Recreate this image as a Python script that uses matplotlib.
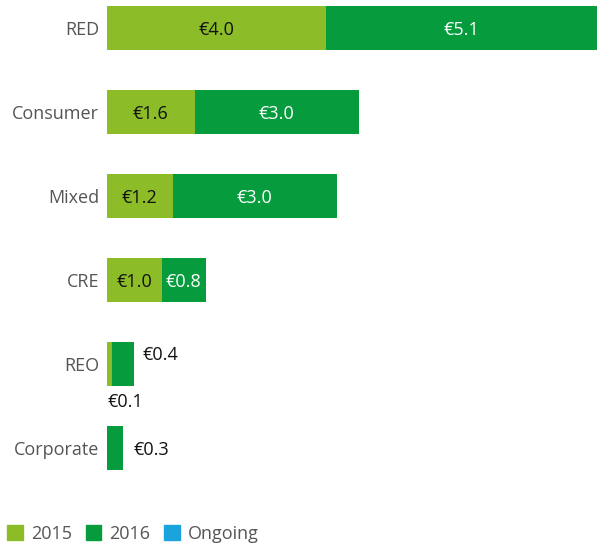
import matplotlib.pyplot as plt
import numpy as np
from matplotlib.patches import Patch

plt.rcParams['font.family'] = ['Open Sans', 'DejaVu Sans']

# Data (EUR bn)
categories = ['RED', 'Consumer', 'Mixed', 'CRE', 'REO', 'Corporate']
vals_2015 = [4.0, 1.6, 1.2, 1.0, 0.1, 0.0]
vals_2016 = [5.1, 3.0, 3.0, 0.8, 0.4, 0.3]
vals_ongoing = [0.0, 0.0, 0.0, 0.0, 0.0, 0.0]
series_names = ['2015', '2016', 'Ongoing']

c2015 = '#8cbd28'
c2016 = '#069c3d'
cong = '#1aa3dc'

W, H = 597, 544
fig = plt.figure(figsize=(W / 100, H / 100), dpi=100)
ax = fig.add_axes([107 / W, (H - 490) / H, 1 - 107 / W, 490 / H])

y = np.arange(len(categories))
xmax = 8.95
h = 0.524

ax.barh(y, vals_2015, height=h, color=c2015)
ax.barh(y, vals_2016, left=vals_2015, height=h, color=c2016)
left_ong = np.array(vals_2015) + np.array(vals_2016)
ax.barh(y, vals_ongoing, left=left_ong, height=h, color=cong)

ax.set_xlim(0, xmax)
ax.set_ylim(5.5, -28 / 84)

fs = 13
# value labels
for i, (a, b) in enumerate(zip(vals_2015, vals_2016)):
    if a >= 0.5:
        ax.text(a / 2, i, f'€{a:.1f}', ha='center', va='center_baseline', fontsize=fs, color='#111111')
    if b >= 0.5:
        right = min(a + b, xmax)
        ax.text((a + right) / 2, i, f'€{b:.1f}', ha='center', va='center_baseline', fontsize=fs, color='white')

# small values outside the bars
i = categories.index('REO')
ax.text(vals_2015[i] + vals_2016[i] + 0.15, i - 0.13, f'€{vals_2016[i]:.1f}',
        ha='left', va='center_baseline', fontsize=fs, color='#111111')
ax.text(0.0, i + 0.43, f'€{vals_2015[i]:.1f}', ha='left', va='center_baseline', fontsize=fs, color='#111111')
i = categories.index('Corporate')
ax.text(vals_2015[i] + vals_2016[i] + 0.18, i, f'€{vals_2016[i]:.1f}',
        ha='left', va='center_baseline', fontsize=fs, color='#111111')

ax.set_yticks(y)
ax.set_yticklabels(categories, fontsize=fs, color='#555555', va='center_baseline')
ax.tick_params(axis='y', length=0, pad=5.5)
ax.set_xticks([])
for s in ax.spines.values():
    s.set_visible(False)

handles = [Patch(color=c, label=n) for c, n in zip([c2015, c2016, cong], series_names)]
fig.legend(handles=handles, loc='lower left', bbox_to_anchor=(7 / W, 1 / H), ncol=3,
           frameon=False, fontsize=13, handlelength=0.88, handleheight=0.88,
           handletextpad=0.45, columnspacing=0.75, labelcolor='#555555',
           borderpad=0, borderaxespad=0)

fig.savefig('out.png', dpi=100)
